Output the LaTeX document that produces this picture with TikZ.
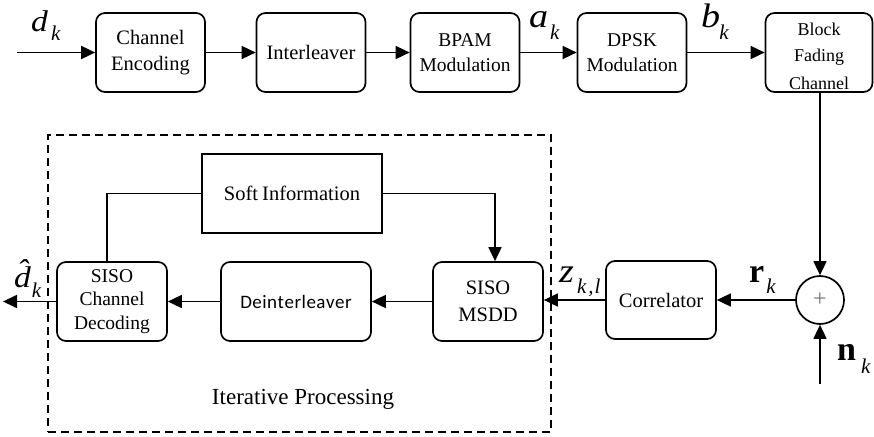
\documentclass[tikz,border=0pt]{standalone}
\usepackage{fontspec}
\setmainfont{Liberation Serif}
\newfontfamily\carlito{Carlito}
\usetikzlibrary{arrows.meta}
\newcommand\subsz{\fontsize{21}{21}\selectfont}
% letter, size, kern, drop, subscript
\newcommand\lblit[5]{\scalebox{1.12}[1]{\fontsize{#2}{#2}\selectfont\itshape #1}\kern#3\raisebox{#4}{\subsz\itshape #5}}
\newcommand\lblbf[5]{{\fontsize{#2}{#2}\selectfont\bfseries #1}\kern#3\raisebox{#4}{\subsz\itshape #5}}
\begin{document}
\begin{tikzpicture}[x=1pt,y=-1pt,
  blk/.style={draw, rounded corners=9pt, minimum width=109pt, minimum height=79pt,
    inner sep=0pt, align=center, line width=1.7pt, font=\fontsize{20.5}{26.5}\selectfont},
  arr/.style={-{Triangle[length=14pt,width=13pt]}, line width=1.7pt},
  ln/.style={line width=1.7pt},
  lab/.style={anchor=base west, inner sep=0pt},
  txt/.style={anchor=base, inner sep=0pt}]
\useasboundingbox (0,0) rectangle (874,436);

% top row
\node[blk] (enc) at (150.5,52.5) {Channel\\Encoding};
\node[blk] (int) at (311,52.5) {Interleaver};
\node[blk, font=\fontsize{19.5}{25}\selectfont] (bpam) at (465,52.5) {BPAM\\Modulation};
\node[blk, font=\fontsize{19.5}{25}\selectfont] (dpsk) at (632,52.5) {DPSK\\Modulation};
\node[blk, minimum width=107pt] (bfc) at (819,52.5) {};
\node[txt, font=\fontsize{18}{18}\selectfont] (bfc1) at (819,36) {Block};
\node[txt, font=\fontsize{18}{18}\selectfont] (bfc2) at (819,61) {Fading};
\node[txt, font=\fontsize{18}{18}\selectfont] (bfc3) at (819,89) {Channel};

% lower row
\node[circle, draw, line width=1.7pt, minimum size=48pt, inner sep=0pt,
  font=\fontsize{24}{24}\selectfont\color{black!55}] (sum) at (820,300) {+};
\node[blk, minimum width=110pt, minimum height=78pt] (cor) at (661,300) {Correlator};
\node[blk, minimum width=110pt] (msdd) at (488,301.5) {SISO\\MSDD};
\node[blk, minimum width=150pt, font=\carlito\fontsize{19}{19}\selectfont] (deint) at (296,301.5) {D\kern0.5pt e\kern0.5pt i\kern0.5pt n\kern0.5pt t\kern0.5pt e\kern0.5pt r\kern0.5pt l\kern0.5pt e\kern0.5pt a\kern0.5pt v\kern0.5pt e\kern0.5pt r};
\node[blk, minimum width=110pt, font=\fontsize{19.5}{23.5}\selectfont] (dec) at (112,301.5) {SISO\\Channel\\Decoding};
\node[draw, line width=1.7pt, minimum width=180pt, minimum height=79pt, inner sep=0pt,
  font=\fontsize{20.5}{20.5}\selectfont] (soft) at (292,193.5) {Soft\kern-1pt\ Information};

% dashed region
\node[draw, line width=1.4pt, dash pattern=on 8pt off 5pt, minimum width=503pt,
  minimum height=297pt, inner sep=0pt] (iter) at (299.5,283.5) {};
\node[txt, font=\fontsize{23}{23}\selectfont] (itlbl) at (303,404) {Iterative Processing};

% connectors
\coordinate (din) at (17,52.5);
\draw[arr] (din) -- (enc);
\draw[arr] (enc) -- (int);
\draw[arr] (int) -- (bpam);
\draw[arr] (bpam) -- (dpsk);
\draw[arr] (dpsk) -- (bfc);
\draw[arr] (bfc.south -| sum.north) -- (sum.north);
\coordinate (nin) at (820,384);
\draw[arr] (nin) -- (sum.south);
\draw[arr] (sum.west) -- (cor.east);
\draw[arr] (cor.west) -- (msdd.east |- cor.west);
\draw[arr] (soft.east) -| ([xshift=7pt]msdd.north);
\draw[ln] (soft.west) -| ([xshift=-5pt]dec.north);
\draw[arr] (msdd.west) -- (deint.east);
\draw[arr] (deint.west) -- (dec.east);
\coordinate (dout) at (3,301.5);
\draw[arr] (dec.west) -- (dout);

% labels
\node[lab] (dk) at (31,32) {\lblit{d}{30}{3pt}{-9pt}{k}};
\node[lab] (ak) at (529,28) {\lblit{a}{34}{2pt}{-12pt}{k}};
\node[lab] (bk) at (701,28) {\lblit{b}{34}{-1pt}{-12pt}{k}};
\node[lab] (rk) at (749,282) {\lblbf{r}{34}{2pt}{-11pt}{k}};
\node[lab] (nk) at (837,360) {\lblbf{n}{34}{5pt}{-13pt}{k}};
\node[lab] (zk) at (559,282) {\lblit{z}{34}{3pt}{-11pt}{k\kern2pt,\kern1pt l}};
\node[lab] (dh) at (14,287) {\lblit{d\char"0302}{30}{1pt}{-10pt}{k}};
\end{tikzpicture}
\end{document}
